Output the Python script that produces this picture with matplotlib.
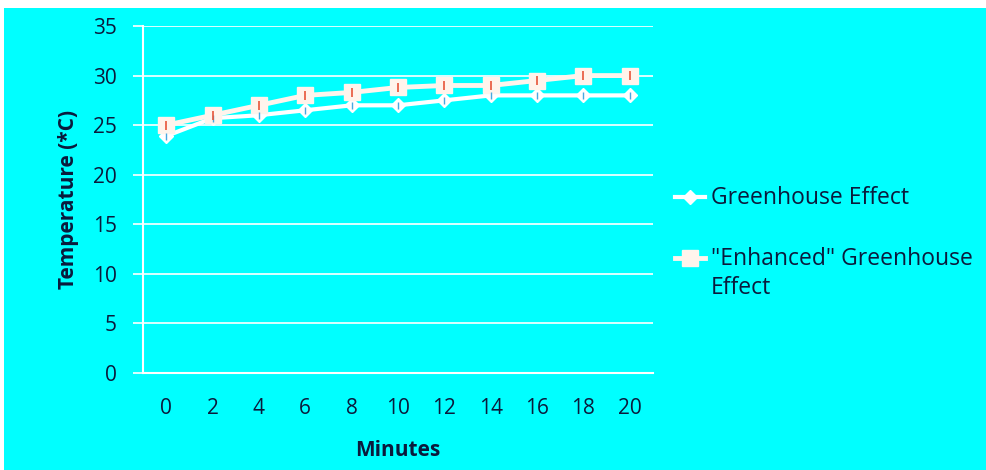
import numpy as np
import matplotlib
matplotlib.use("Agg")
import matplotlib.pyplot as plt
from matplotlib.patches import Rectangle
from matplotlib.lines import Line2D

minutes = [0, 2, 4, 6, 8, 10, 12, 14, 16, 18, 20]
greenhouse = [23.9, 25.7, 26.0, 26.5, 27.0, 27.0, 27.5, 28.0, 28.0, 28.0, 28.0]
enhanced = [25.0, 26.0, 27.0, 28.0, 28.3, 28.8, 29.0, 29.0, 29.5, 30.0, 30.0]
yticks = [0, 5, 10, 15, 20, 25, 30, 35]
labels = ['Greenhouse Effect', '"Enhanced" Greenhouse', 'Effect']

BG = '#00ffff'
TXT = '#0b1a3c'
GH_COL = 'white'
EN_COL = '#fff4ec'
plt.rcParams['font.family'] = ['Open Sans', 'DejaVu Sans']

fig = plt.figure(figsize=(9.87, 4.70), dpi=100)
fig.patch.set_facecolor('white')
# cyan panel, a little white margin on top/left
fig.patches.append(Rectangle((4/987, 0), 1, 1 - 8/470, transform=fig.transFigure,
                             facecolor=BG, edgecolor='none', zorder=-10))

ax = fig.add_axes([143/987, 1 - 373/470, 510/987, 347/470])
ax.patch.set_alpha(0)

x = np.arange(len(minutes))
ax.plot(x, greenhouse, color=GH_COL, lw=3, marker='D', ms=7,
        mfc=GH_COL, mec=GH_COL, zorder=3)
ax.plot(x, enhanced, color=EN_COL, lw=3.5, marker='s', ms=11,
        mfc=EN_COL, mec=EN_COL, zorder=4)
# tiny error bars inside the markers
ax.errorbar(x, greenhouse, yerr=0.35, fmt='none', ecolor='#4aa8e0', elinewidth=1, zorder=5)
ax.errorbar(x, enhanced, yerr=0.45, fmt='none', ecolor='#e8553a', elinewidth=1.2, zorder=6)

ax.set_xlim(-0.5, len(minutes) - 0.5)
ax.set_ylim(0, 35)
ax.set_yticks(yticks)
ax.set_xticks(x)
ax.set_xticklabels([str(m) for m in minutes])
ax.grid(axis='y', color='white', lw=1.2)
ax.set_axisbelow(True)

for s in ['top', 'right']:
    ax.spines[s].set_visible(False)
for s in ['left', 'bottom']:
    ax.spines[s].set_color('white')
    ax.spines[s].set_linewidth(1.5)

ax.tick_params(axis='y', length=7, width=1.2, color='white', pad=12,
               labelsize=15, labelcolor=TXT)
ax.tick_params(axis='x', length=0, pad=18, labelsize=15, labelcolor=TXT)

ax.set_xlabel('Minutes', fontsize=15, fontweight='bold', color=TXT, labelpad=15)
ax.set_ylabel('Temperature (*C)', fontsize=15, fontweight='bold', color=TXT, labelpad=10)

# legend drawn by hand so the handle sits on the first line of the wrapped label
def fx(px):
    return px / 987
def fy(py):
    return 1 - py / 470

tf = fig.transFigure
fig.add_artist(Line2D([fx(675), fx(705)], [fy(197), fy(197)], color=GH_COL, lw=3, transform=tf))
fig.add_artist(Line2D([fx(690)], [fy(197)], color=GH_COL, marker='D', ms=7, transform=tf))
fig.add_artist(Line2D([fx(675), fx(705)], [fy(258), fy(258)], color=EN_COL, lw=3.5, transform=tf))
fig.add_artist(Line2D([fx(690)], [fy(258)], color=EN_COL, marker='s', ms=11, transform=tf))
fig.text(fx(711), fy(198), labels[0], fontsize=16.5, color=TXT, va='center', ha='left')
fig.text(fx(711), fy(259), labels[1], fontsize=16.5, color=TXT, va='center', ha='left')
fig.text(fx(711), fy(288), labels[2], fontsize=16.5, color=TXT, va='center', ha='left')

fig.savefig('out.png', dpi=100, facecolor='white')
